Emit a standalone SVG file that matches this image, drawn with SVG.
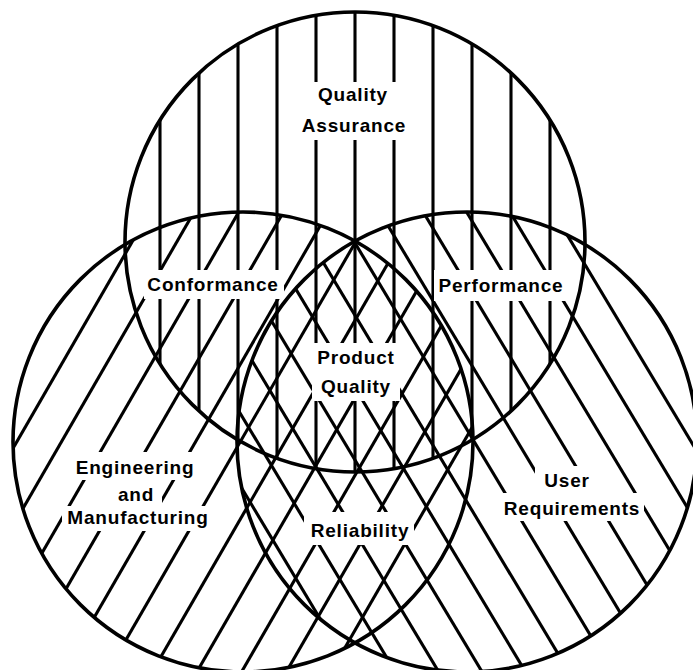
<svg xmlns="http://www.w3.org/2000/svg" width="693" height="670" viewBox="0 0 693 670">
<style>
.outline{fill:none;stroke:#000;stroke-width:3.6}
.hatch line{stroke:#000;stroke-width:3.1}
.gap{fill:#fff;stroke:none}
text{font-family:"Liberation Sans",Arial,sans-serif;font-weight:bold;font-size:19px;letter-spacing:0.8px;text-anchor:middle;fill:#000}
</style>
<defs>
<clipPath id="clipTop"><circle cx="355" cy="242" r="230"/></clipPath>
<clipPath id="clipLeft"><circle cx="243" cy="442" r="230"/></clipPath>
<clipPath id="clipRight"><circle cx="467" cy="442" r="230"/></clipPath>
</defs>
<rect x="0" y="0" width="693" height="670" fill="#fff"/>

<g id="quality-assurance">
<g class="hatch" clip-path="url(#clipTop)">
<line x1="160" y1="0" x2="160" y2="670"/>
<line x1="199" y1="0" x2="199" y2="670"/>
<line x1="238" y1="0" x2="238" y2="670"/>
<line x1="277" y1="0" x2="277" y2="670"/>
<line x1="316" y1="0" x2="316" y2="670"/>
<line x1="355" y1="0" x2="355" y2="670"/>
<line x1="394" y1="0" x2="394" y2="670"/>
<line x1="433" y1="0" x2="433" y2="670"/>
<line x1="472" y1="0" x2="472" y2="670"/>
<line x1="511" y1="0" x2="511" y2="670"/>
<line x1="550" y1="0" x2="550" y2="670"/>
</g>
<rect class="gap" x="300" y="82" width="110" height="58"/>
<text x="353" y="101">Quality</text>
<text x="354" y="132">Assurance</text>
</g>

<g id="engineering-manufacturing">
<g class="hatch" clip-path="url(#clipLeft)">
<line x1="271.7" y1="0" x2="-120.7" y2="680"/>
<line x1="316.4" y1="0" x2="-76" y2="680"/>
<line x1="361.1" y1="0" x2="-31.3" y2="680"/>
<line x1="405.8" y1="0" x2="13.4" y2="680"/>
<line x1="450.5" y1="0" x2="58.1" y2="680"/>
<line x1="495.2" y1="0" x2="102.8" y2="680"/>
<line x1="539.9" y1="0" x2="147.5" y2="680"/>
<line x1="584.6" y1="0" x2="192.2" y2="680"/>
<line x1="629.3" y1="0" x2="236.9" y2="680"/>
<line x1="674" y1="0" x2="281.6" y2="680"/>
<line x1="718.7" y1="0" x2="326.3" y2="680"/>
</g>
<rect class="gap" x="72" y="452" width="125" height="28"/>
<rect class="gap" x="108" y="480" width="54" height="26"/>
<rect class="gap" x="62" y="506" width="152" height="25"/>
<text x="135" y="474">Engineering</text>
<text x="136" y="501">and</text>
<text x="138" y="524">Manufacturing</text>
</g>

<g id="user-requirements">
<g class="hatch" clip-path="url(#clipRight)">
<line x1="-51.2" y1="0" x2="356.8" y2="680"/>
<line x1="-7.8" y1="0" x2="400.2" y2="680"/>
<line x1="35.6" y1="0" x2="443.6" y2="680"/>
<line x1="79" y1="0" x2="487" y2="680"/>
<line x1="122.4" y1="0" x2="530.4" y2="680"/>
<line x1="165.8" y1="0" x2="573.8" y2="680"/>
<line x1="209.2" y1="0" x2="617.2" y2="680"/>
<line x1="252.6" y1="0" x2="660.6" y2="680"/>
<line x1="296" y1="0" x2="704" y2="680"/>
<line x1="339.4" y1="0" x2="747.4" y2="680"/>
<line x1="382.8" y1="0" x2="790.8" y2="680"/>
<line x1="426.2" y1="0" x2="834.2" y2="680"/>
</g>
<rect class="gap" x="535" y="466" width="65" height="27"/>
<rect class="gap" x="498" y="493" width="146" height="28"/>
<text x="567" y="487">User</text>
<text x="572" y="515">Requirements</text>
</g>

<g id="outlines">
<circle class="outline" cx="355" cy="242" r="230"/>
<circle class="outline" cx="243" cy="442" r="230"/>
<circle class="outline" cx="467" cy="442" r="230"/>
</g>

<g id="conformance">
<rect class="gap" x="144" y="270" width="140" height="29"/>
<text x="213" y="291">Conformance</text>
</g>
<g id="performance">
<rect class="gap" x="434" y="270" width="134" height="31"/>
<text x="501" y="292">Performance</text>
</g>
<g id="product-quality">
<rect class="gap" x="312" y="343" width="88" height="58"/>
<text x="356" y="364">Product</text>
<text x="356" y="393">Quality</text>
</g>
<g id="reliability">
<rect class="gap" x="304" y="512" width="110" height="33"/>
<text x="360" y="537">Reliability</text>
</g>
<g id="connectors"></g>
</svg>
